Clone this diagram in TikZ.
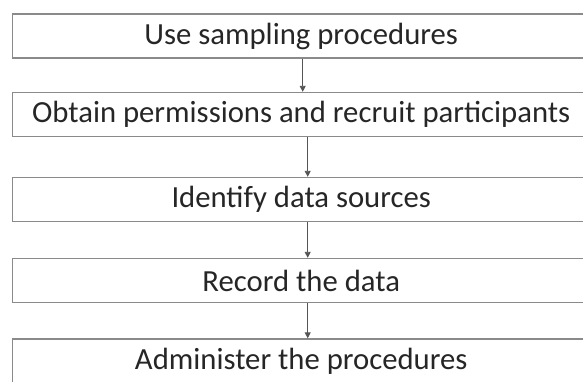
\documentclass[tikz,border=0pt]{standalone}
\usepackage{fontspec}
\setmainfont{Carlito}
\usetikzlibrary{arrows.meta}
\definecolor{boxline}{HTML}{8A8A8A}
\definecolor{txt}{HTML}{262626}
\definecolor{arr}{HTML}{555555}
\tikzset{
  stepbox/.style={draw=boxline, line width=1.4pt, minimum width=577pt, minimum height=44pt,
    inner sep=0pt, text=txt, font=\fontsize{30.7}{34}\selectfont, anchor=west},
  flow/.style={draw=arr, line width=0.9pt, -{Triangle[length=6pt,width=6pt]}}
}
\begin{document}
\begin{tikzpicture}[x=1pt,y=-1pt]
\useasboundingbox (0,0) rectangle (583,381);
\clip (0,0) rectangle (583,381);
\fill[white] (0,0) rectangle (583,381);
\node[stepbox] (b1) at (12,36) {Use sampling procedures};
\node[stepbox] (b2) at (12,114.5) {Obtain permissions and recruit participants};
\node[stepbox] (b3) at (12,199.5) {Identify data sources};
\node[stepbox] (b4) at (12,280.5) {Record the data};
\node[stepbox] (b5) at (12,361) {Administer the procedures};
\draw[flow] ([xshift=1.5pt]b1.south) -- ([xshift=1.5pt]b2.north);
\draw[flow] ([xshift=6.5pt]b2.south) -- ([xshift=6.5pt]b3.north);
\draw[flow] ([xshift=6.5pt]b3.south) -- ([xshift=6.5pt]b4.north);
\draw[flow] ([xshift=6.5pt]b4.south) -- ([xshift=6.5pt]b5.north);
\end{tikzpicture}
\end{document}
